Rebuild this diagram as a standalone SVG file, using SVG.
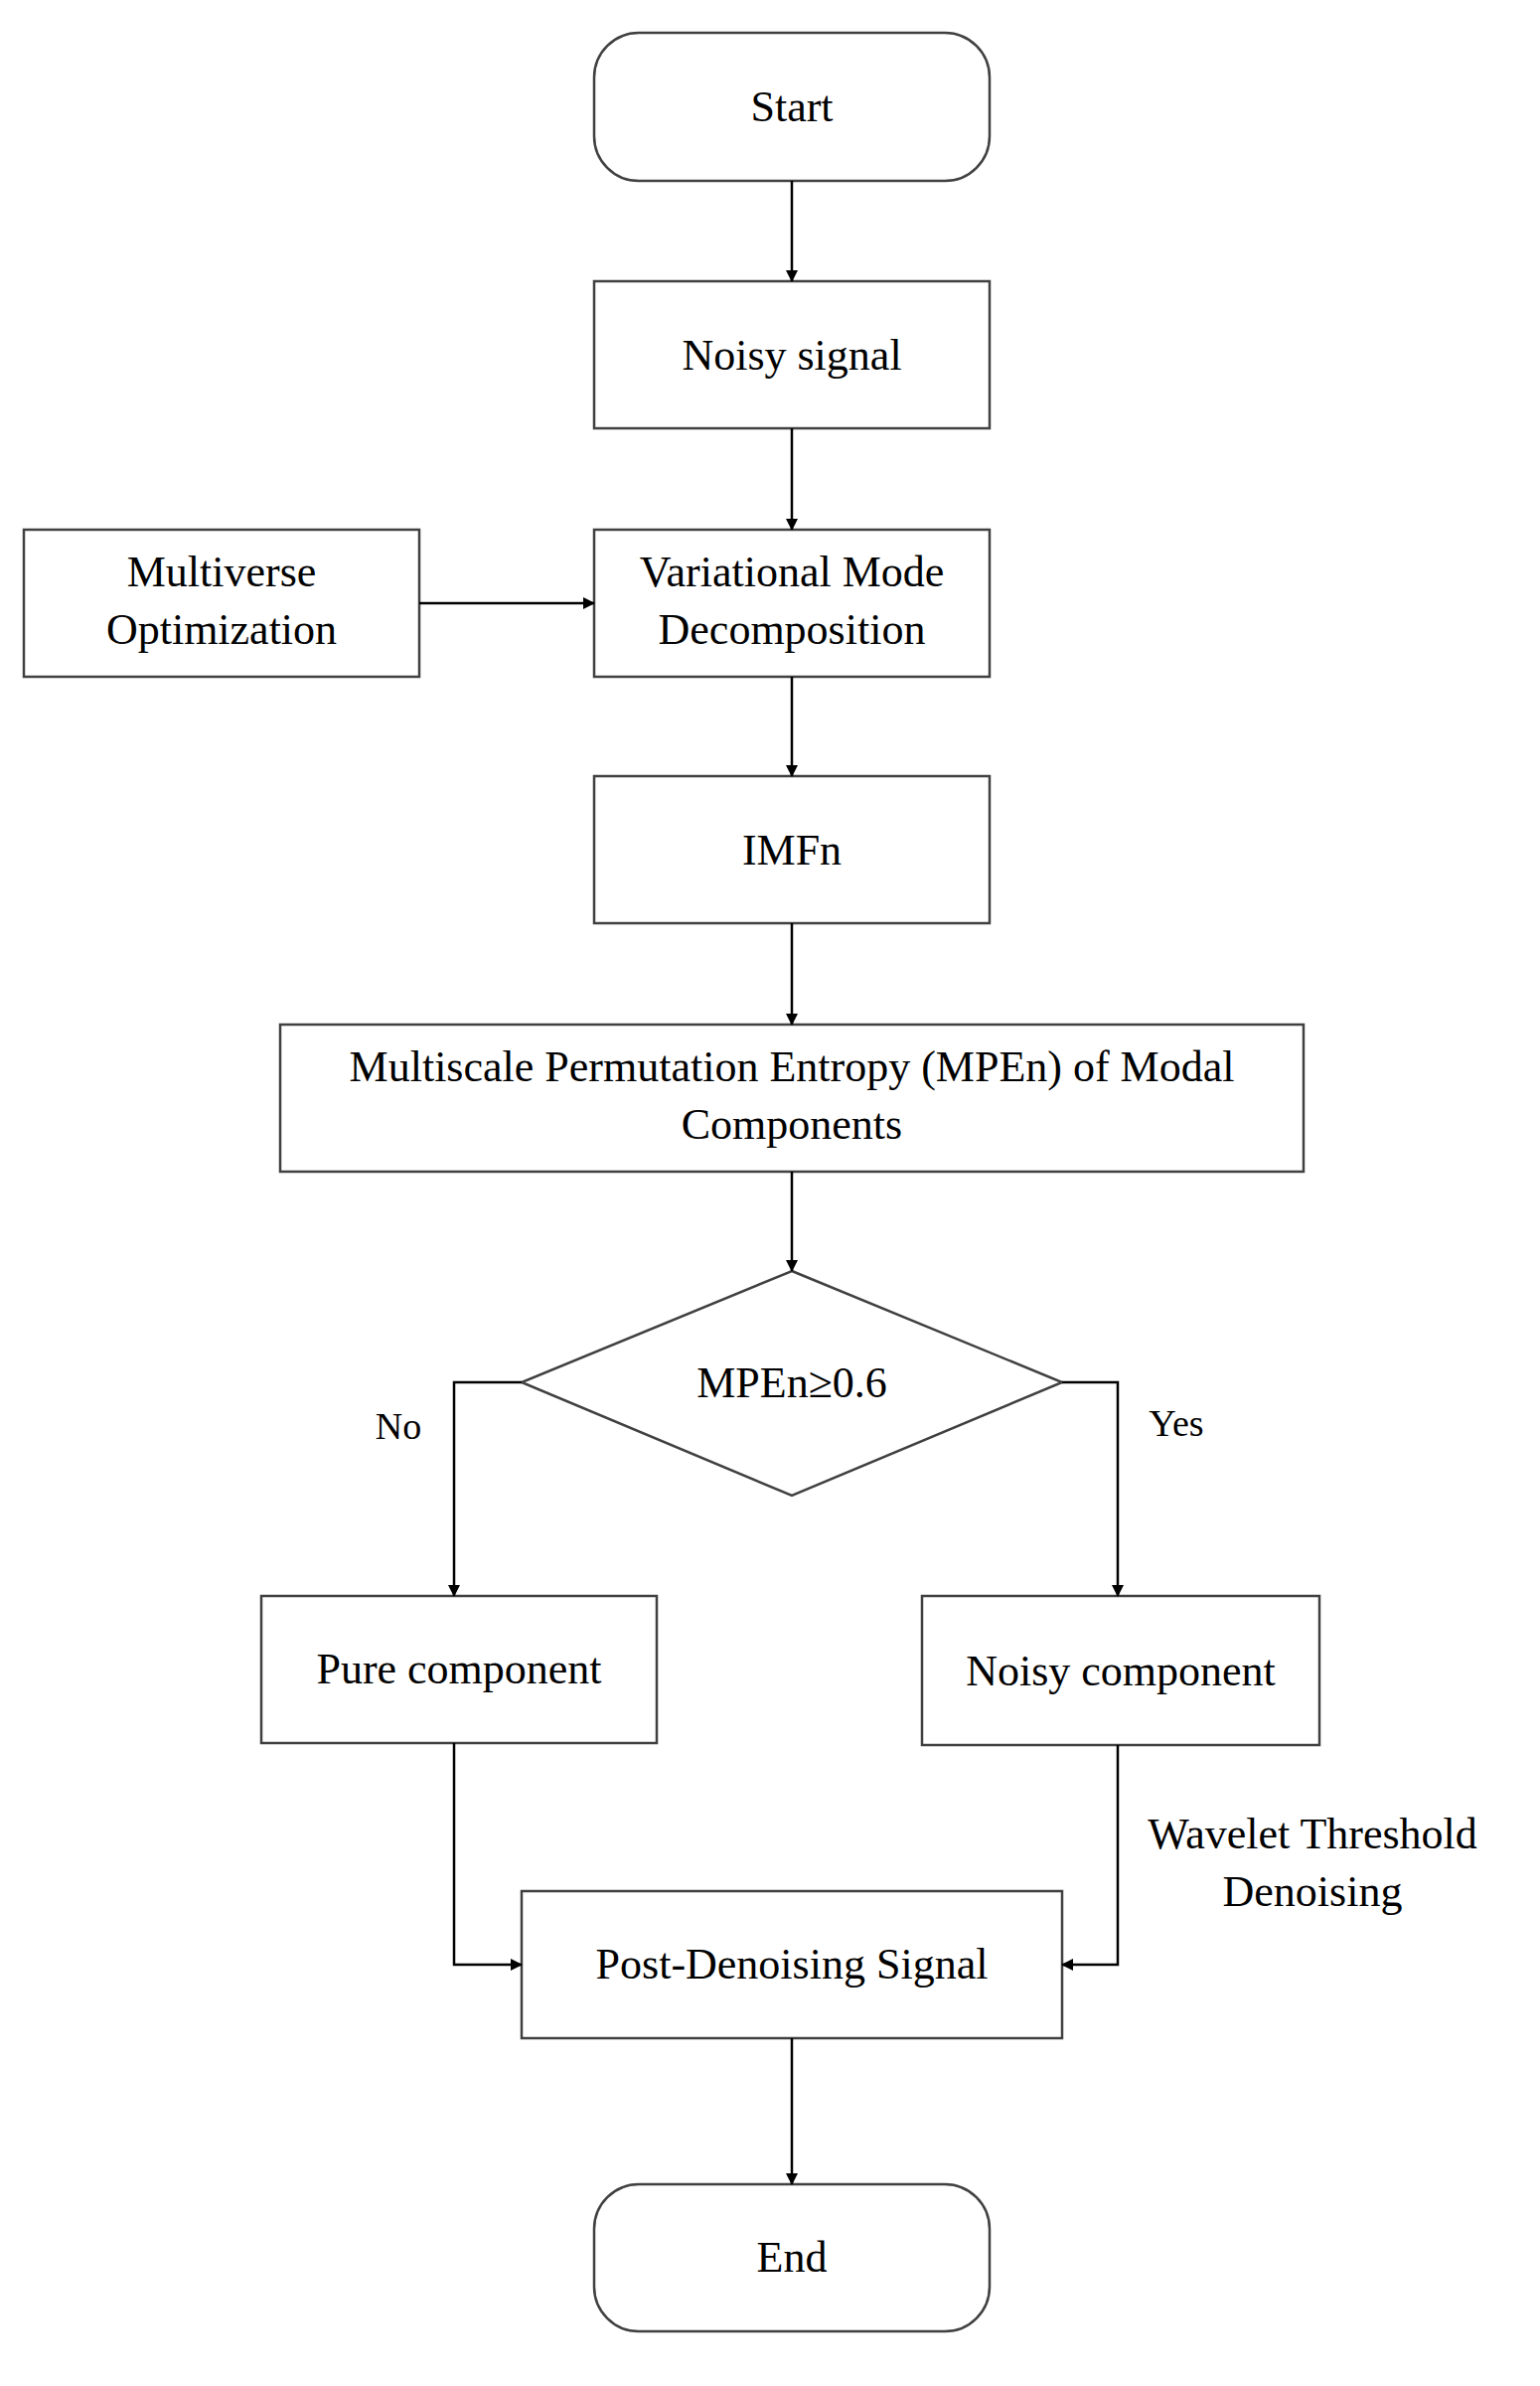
<svg xmlns="http://www.w3.org/2000/svg" width="1550" height="2401" viewBox="0 0 1550 2401">
<defs>
<style>
.b{fill:#fff;stroke:#404040;stroke-width:2.5}
.t{font-family:"Liberation Serif",serif;font-size:44px;fill:#000;text-anchor:middle}
.c{fill:none;stroke:#000;stroke-width:2.5}
</style>
<marker id="a" markerWidth="12" markerHeight="12" refX="11" refY="6" orient="auto" markerUnits="userSpaceOnUse" viewBox="0 0 12 12"><path d="M0,0 L12,6 L0,12 Z" fill="#000"/></marker>
</defs>
<rect width="1550" height="2401" fill="#fff"/>
<g id="start"><rect class="b" x="598" y="33" width="398" height="149" rx="45"/><text class="t" x="797" y="122">Start</text></g>
<g id="noisy"><rect class="b" x="598" y="283" width="398" height="148"/><text class="t" x="797" y="372">Noisy signal</text></g>
<g id="vmd"><rect class="b" x="598" y="533" width="398" height="148"/><text class="t" x="797" y="590">Variational Mode</text><text class="t" x="797" y="648">Decomposition</text></g>
<g id="mvo"><rect class="b" x="24" y="533" width="398" height="148"/><text class="t" x="223" y="590">Multiverse</text><text class="t" x="223" y="648">Optimization</text></g>
<g id="imf"><rect class="b" x="598" y="781" width="398" height="148"/><text class="t" x="797" y="870">IMFn</text></g>
<g id="mpen"><rect class="b" x="282" y="1031" width="1030" height="148"/><text class="t" x="797" y="1088">Multiscale Permutation Entropy (MPEn) of Modal</text><text class="t" x="797" y="1146">Components</text></g>
<g id="dec"><polygon class="b" points="797,1279 1069,1391 797,1505 525,1391"/><text class="t" x="797" y="1406">MPEn≥0.6</text></g>
<g id="pure"><rect class="b" x="263" y="1606" width="398" height="148"/><text class="t" x="462" y="1694">Pure component</text></g>
<g id="noisyc"><rect class="b" x="928" y="1606" width="400" height="150"/><text class="t" x="1128" y="1696">Noisy component</text></g>
<g id="post"><rect class="b" x="525" y="1903" width="544" height="148"/><text class="t" x="797" y="1991">Post-Denoising Signal</text></g>
<g id="end"><rect class="b" x="598" y="2198" width="398" height="148" rx="45"/><text class="t" x="797" y="2286">End</text></g>
<g id="connectors">
<path class="c" d="M797,182 V283" marker-end="url(#a)"/>
<path class="c" d="M797,431 V533" marker-end="url(#a)"/>
<path class="c" d="M422,607 H598" marker-end="url(#a)"/>
<path class="c" d="M797,681 V781" marker-end="url(#a)"/>
<path class="c" d="M797,929 V1031" marker-end="url(#a)"/>
<path class="c" d="M797,1179 V1279" marker-end="url(#a)"/>
<path class="c" d="M525,1391 H457 V1606" marker-end="url(#a)"/>
<path class="c" d="M1069,1391 H1125 V1606" marker-end="url(#a)"/>
<path class="c" d="M457,1754 V1977 H525" marker-end="url(#a)"/>
<path class="c" d="M1125,1756 V1977 H1069" marker-end="url(#a)"/>
<path class="c" d="M797,2051 V2198" marker-end="url(#a)"/>
<text class="t" x="401" y="1448" style="font-size:38px">No</text>
<text class="t" x="1184" y="1445" style="font-size:38px">Yes</text>
<text class="t" x="1321" y="1860">Wavelet Threshold</text>
<text class="t" x="1321" y="1918">Denoising</text>
</g>
</svg>
